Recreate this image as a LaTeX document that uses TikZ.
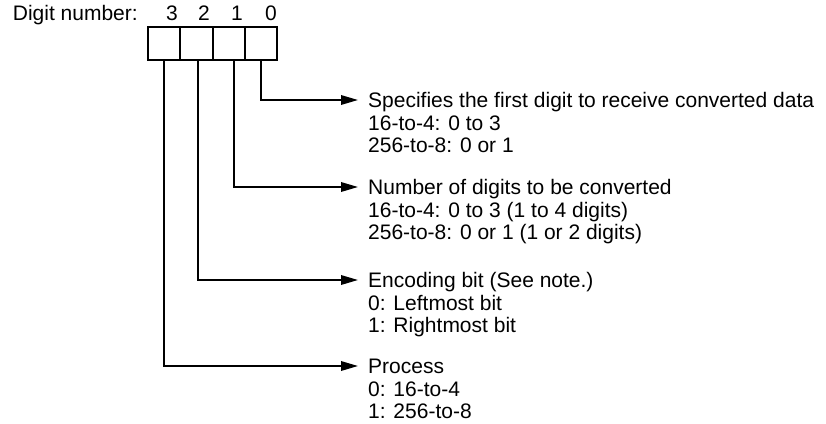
\documentclass[tikz,border=0pt]{standalone}
\usepackage{fontspec}
\setmainfont{Liberation Sans}
\usetikzlibrary{arrows.meta}
\begin{document}
\begin{tikzpicture}[x=1pt,y=1pt,
  txt/.style={font=\fontsize{21}{22.5}\selectfont, inner sep=0pt},
  head/.style={txt, anchor=west, text height=15pt, text depth=0pt},
  sub/.style={txt, anchor=base west},
  cell/.style={draw, line width=1.8pt, minimum width=32.3pt, minimum height=32.7pt, inner sep=0pt},
  conn/.style={line width=1.8pt, -{Triangle[length=17pt,width=9.5pt]}, shorten >=10pt}]
\useasboundingbox (0,0) rectangle (826,-423);
% digit number labels
\node[sub] (lbl) at (12.7,-20) {Digit number:};
\node[txt, anchor=base] (d3) at (172,-20) {3};
\node[txt, anchor=base] (d2) at (204,-20) {2};
\node[txt, anchor=base] (d1) at (237,-20) {1};
\node[txt, anchor=base] (d0) at (271,-20) {0};
% cells
\node[cell] (c3) at (164.15,-43.35) {};
\node[cell] (c2) at (196.45,-43.35) {};
\node[cell] (c1) at (228.75,-43.35) {};
\node[cell] (c0) at (261.05,-43.35) {};
% descriptions
\node[head] (t0) at (368,-100) {Specifies the first digit to receive converted data};
\node[sub] (t0a) at (368,-130) {16-to-4: 0 to 3};
\node[sub] (t0b) at (368,-152.5) {256-to-8: 0 or 1};
\node[head] (t1) at (368,-187) {Number of digits to be converted};
\node[sub] (t1a) at (368,-217) {16-to-4: 0 to 3 (1 to 4 digits)};
\node[sub] (t1b) at (368,-239.5) {256-to-8: 0 or 1 (1 or 2 digits)};
\node[head] (t2) at (368,-280) {Encoding bit (See note.)};
\node[sub] (t2a) at (368,-310) {0: Leftmost bit};
\node[sub] (t2b) at (368,-332.5) {1: Rightmost bit};
\node[head] (t3) at (368,-366) {Process};
\node[sub] (t3a) at (368,-396) {0: 16-to-4};
\node[sub] (t3b) at (368,-418.5) {1: 256-to-8};
% connectors
\draw[conn] (c0.south) |- (t0.west);
\draw[conn] ([xshift=5pt]c1.south) |- (t1.west);
\draw[conn] ([xshift=1.5pt]c2.south) |- (t2.west);
\draw[conn] (c3.south) |- (t3.west);
\end{tikzpicture}
\end{document}
